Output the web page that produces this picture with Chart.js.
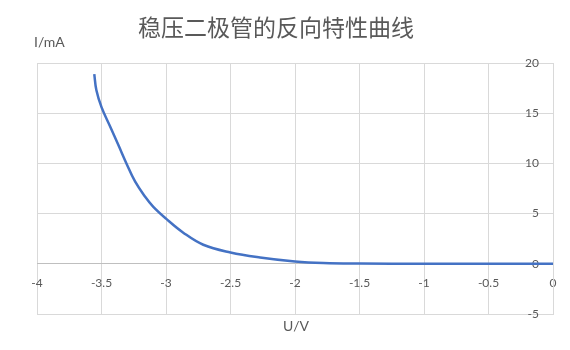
<!DOCTYPE html>
<html>
<head>
<meta charset="utf-8">
<script src="https://cdn.jsdelivr.net/npm/chart.js@4"></script>
<style>
html,body{margin:0;padding:0;background:#fff;}
#wrap{width:570px;height:350px;position:relative;}
</style>
</head>
<body>
<div id="wrap"><canvas id="c" width="570" height="350"></canvas></div>
<script>
const titleText = "稳压二极管的反向特性曲线";
const yAxisLabel = "I/mA";
const xAxisLabel = "U/V";
const voltage = [-3.556, -3.54, -3.50, -3.434, -3.37, -3.305, -3.24, -3.163, -3.10, -3.0, -2.866, -2.711, -2.5, -2.271, -2.0, -1.78, -1.5, -1.0, -0.5, 0];
const current = [18.9, 17.3, 15.6, 13.7, 11.85, 9.95, 8.2, 6.7, 5.7, 4.5, 3.1, 1.9, 1.13, 0.63, 0.23, 0.07, 0.02, 0, 0, 0];
const xTicks = {min: -4, max: 0, step: 0.5};
const yTicks = {min: -5, max: 20, step: 5};

const points = voltage.map((v, i) => ({x: v, y: current[i]}));
const labelFont = "Lato, 'Liberation Sans', sans-serif";

const textPlugin = {
  id: 'texts',
  afterDraw(chart) {
    const ctx = chart.ctx;
    ctx.save();
    ctx.fillStyle = '#595959';
    ctx.textBaseline = 'middle';
    ctx.textAlign = 'center';
    ctx.font = "23px 'Noto Sans CJK SC', sans-serif";
    ctx.fillText(titleText, 276, 27);
    ctx.font = "14px " + labelFont;
    ctx.textAlign = 'left';
    ctx.fillText(yAxisLabel, 34, 42);
    ctx.textAlign = 'center';
    ctx.fillText(xAxisLabel, 296, 326);
    ctx.restore();
  }
};

new Chart(document.getElementById('c'), {
  type: 'scatter',
  data: {
    datasets: [{
      data: points,
      showLine: true,
      borderColor: '#4472C4',
      borderWidth: 2.5,
      pointRadius: 0,
      tension: 0.4,
      fill: false
    }]
  },
  options: {
    responsive: false,
    animation: false,
    layout: {padding: {left: 37, right: 17, top: 63, bottom: 36}},
    plugins: {legend: {display: false}, title: {display: false}, tooltip: {enabled: false}},
    scales: {
      x: {
        type: 'linear',
        position: {y: 0},
        min: xTicks.min, max: xTicks.max,
        ticks: {stepSize: xTicks.step, color: '#595959', font: {family: labelFont, size: 12}, padding: 12, maxRotation: 0,
          callback: v => String(v)},
        grid: {color: '#d9d9d9', lineWidth: 1, drawTicks: false},
        border: {color: '#bfbfbf', width: 1}
      },
      y: {
        type: 'linear',
        position: 'right',
        min: yTicks.min, max: yTicks.max,
        afterFit: scale => { scale.width = 0; },
        ticks: {stepSize: yTicks.step, color: '#595959', font: {family: labelFont, size: 12}, padding: -14, mirror: true},
        grid: {color: '#d9d9d9', lineWidth: 1, drawTicks: false},
        border: {color: '#d9d9d9', width: 1}
      }
    }
  },
  plugins: [textPlugin]
});
</script>
</body>
</html>
